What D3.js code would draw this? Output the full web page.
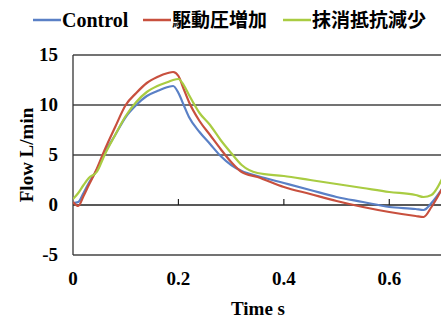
<!DOCTYPE html>
<meta charset="utf-8">
<style>

body {
  margin: 0;
  background: #fff;
}

text {
  font-family: "Liberation Serif", "Times New Roman", serif;
  font-weight: bold;
}

.series {
  fill: none;
  stroke-width: 2.2px;
  stroke-linejoin: round;
}

</style>
<svg width="441" height="322"></svg>
<script src="https://d3js.org/d3.v7.min.js"></script>
<script>

var times = [0, 0.01, 0.02, 0.03, 0.045, 0.06, 0.08, 0.1, 0.12, 0.14, 0.16, 0.18, 0.19, 0.2, 0.21, 0.22,
             0.24, 0.26, 0.28, 0.3, 0.32, 0.35, 0.4, 0.45, 0.5, 0.55, 0.6, 0.65, 0.665, 0.68, 0.7];

var control = [0.2, 0.3, 1.2, 2.2, 3.5, 5.2, 7.0, 8.8, 10.0, 10.9, 11.4, 11.8, 11.9, 11.2, 10.0, 8.8,
               7.3, 6.1, 4.9, 4.0, 3.4, 2.9, 2.2, 1.5, 0.8, 0.3, -0.2, -0.4, -0.5, 0.2, 1.6];

var drivePressureUp = [0.3, -0.1, 0.9, 2.0, 3.6, 5.5, 7.8, 10.0, 11.2, 12.2, 12.8, 13.2, 13.3, 12.9, 11.6, 10.3,
                       8.4, 7.0, 5.6, 4.3, 3.3, 2.8, 1.8, 1.1, 0.4, -0.2, -0.7, -1.1, -1.2, -0.2, 1.6];

var resistanceDown = [0.6, 1.2, 2.0, 2.7, 3.3, 5.0, 7.0, 8.9, 10.3, 11.3, 11.9, 12.3, 12.5, 12.6, 12.0, 11.0,
                      9.2, 8.0, 6.5, 5.2, 4.0, 3.2, 2.9, 2.5, 2.1, 1.7, 1.3, 1.0, 0.8, 1.0, 2.6];

var seriesNames = ["Control", "駆動圧増加", "抹消抵抗減少"];
var seriesColors = ["#5a80c6", "#c8503e", "#a9cc42"];
var seriesValues = [control, drivePressureUp, resistanceDown];

var yTicks = [-5, 0, 5, 10, 15];
var xTicks = [0, 0.2, 0.4, 0.6];

var svg = d3.select("svg");

var x = d3.scaleLinear().domain([0, 0.7]).range([73, 442]);
var y = d3.scaleLinear().domain([-5, 15]).range([255, 55]);

svg.append("clipPath").attr("id", "clip")
  .append("rect")
    .attr("x", x(0)).attr("y", y(15) - 5)
    .attr("width", x(0.7) - x(0)).attr("height", y(-5) - y(15) + 5);

// gridlines
svg.append("g")
  .selectAll("line")
  .data(yTicks)
  .enter().append("line")
    .attr("x1", x(0)).attr("x2", x(0.7))
    .attr("y1", function(d) { return y(d); })
    .attr("y2", function(d) { return y(d); })
    .attr("stroke", function(d) { return d === 0 ? "#222" : "#444"; })
    .attr("stroke-width", 1.3);

// left axis line
svg.append("line")
    .attr("x1", x(0)).attr("x2", x(0))
    .attr("y1", y(15)).attr("y2", y(-5))
    .attr("stroke", "#333").attr("stroke-width", 1.3);

// ticks on zero line
svg.append("g")
  .selectAll("line")
  .data(xTicks.slice(1))
  .enter().append("line")
    .attr("x1", function(d) { return x(d); })
    .attr("x2", function(d) { return x(d); })
    .attr("y1", y(0)).attr("y2", y(0) - 6)
    .attr("stroke", "#222").attr("stroke-width", 1.2);

// y labels
svg.append("g")
  .selectAll("text")
  .data(yTicks)
  .enter().append("text")
    .attr("x", 58)
    .attr("y", function(d) { return y(d) + 6; })
    .attr("text-anchor", "end")
    .attr("font-size", 19)
    .text(function(d) { return d; });

// x labels
svg.append("g")
  .selectAll("text")
  .data(xTicks)
  .enter().append("text")
    .attr("x", function(d) { return x(d); })
    .attr("y", 285)
    .attr("text-anchor", "middle")
    .attr("font-size", 19)
    .text(function(d) { return d; });

svg.append("text")
    .attr("x", 258).attr("y", 315)
    .attr("text-anchor", "middle")
    .attr("font-size", 19)
    .text("Time s");

svg.append("text")
    .attr("transform", "translate(33,155) rotate(-90)")
    .attr("text-anchor", "middle")
    .attr("font-size", 19)
    .text("Flow L/min");

var line = d3.line()
    .x(function(d, i) { return x(times[i]); })
    .y(function(d) { return y(d); })
    .curve(d3.curveMonotoneX);

svg.append("g")
    .attr("clip-path", "url(#clip)")
  .selectAll("path")
  .data(seriesValues)
  .enter().append("path")
    .attr("class", "series")
    .attr("stroke", function(d, i) { return seriesColors[i]; })
    .attr("d", line);

// legend
var legendX = [33, 143, 283];
var legend = svg.append("g")
  .selectAll("g")
  .data(seriesNames)
  .enter().append("g")
    .attr("transform", function(d, i) { return "translate(" + legendX[i] + ",20)"; });

legend.append("line")
    .attr("x1", 0).attr("x2", 28)
    .attr("stroke", function(d, i) { return seriesColors[i]; })
    .attr("stroke-width", 2.5);

legend.append("text")
    .attr("x", 29).attr("y", 7)
    .attr("font-size", function(d, i) { return i === 0 ? 20 : 19; })
    .style("font-family", function(d, i) {
      return i === 0 ? "'Liberation Serif', serif" : "'Noto Sans CJK JP', sans-serif";
    })
    .text(function(d) { return d; });

</script>
